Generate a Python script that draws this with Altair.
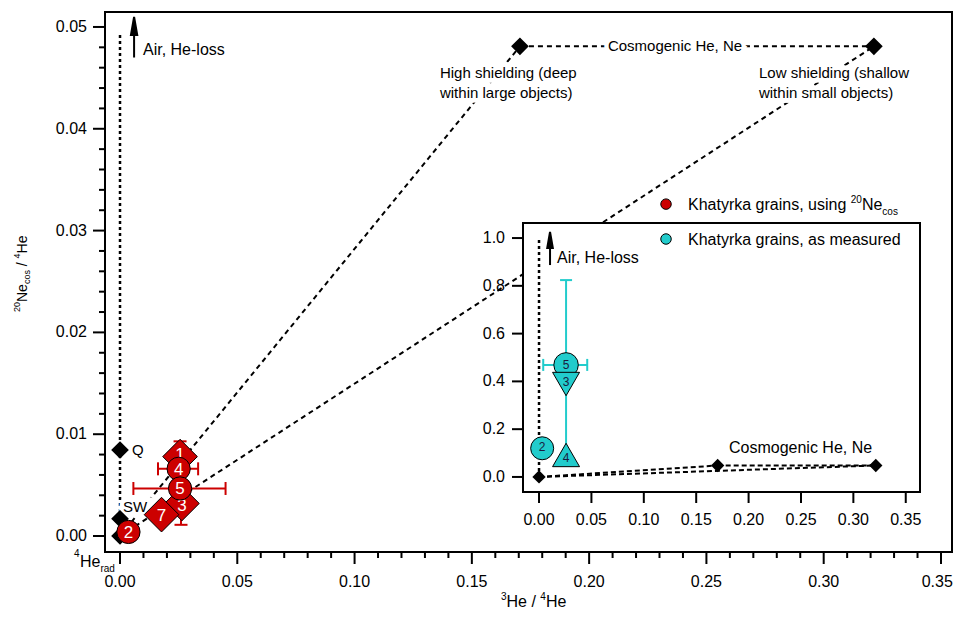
import altair as alt
import pandas as pd

FONT = "Liberation Sans"
RED = "#CC0000"
CYAN = "#22CCCC"
W, H = 847, 540

# ---------------- main panel ----------------
x_ticks = [0.00, 0.05, 0.10, 0.15, 0.20, 0.25, 0.30, 0.35]
x_tick_labels = ["0.00", "0.05", "0.10", "0.15", "0.20", "0.25", "0.30", "0.35"]
x_label_pos = [0.00, 0.05, 0.10, 0.15, 0.20, 0.25, 0.30, 0.3484]
y_ticks = [0.00, 0.01, 0.02, 0.03, 0.04, 0.05]
y_tick_labels = ["0.00", "0.01", "0.02", "0.03", "0.04", "0.05"]
x_minor = [0.01, 0.02, 0.03, 0.04, 0.06, 0.07, 0.08, 0.09, 0.11, 0.12, 0.13, 0.14,
           0.16, 0.17, 0.18, 0.19, 0.21, 0.22, 0.23, 0.24, 0.26, 0.27, 0.28, 0.29,
           0.31, 0.32, 0.33, 0.34]
y_minor = [0.002, 0.004, 0.006, 0.008, 0.012, 0.014, 0.016, 0.018, 0.022, 0.024,
           0.026, 0.028, 0.032, 0.034, 0.036, 0.038, 0.042, 0.044, 0.046, 0.048]

ref_name = ["4He_rad", "SW", "Q", "high", "low"]
ref_x = [0.0, 0.0, 0.0, 0.1705, 0.3214]
ref_y = [0.0, 0.0017, 0.00845, 0.0481, 0.0481]

mix_x0 = [0.0, 0.0, 0.1705]
mix_y0 = [0.0, 0.0, 0.0481]
mix_x1 = [0.1705, 0.3214, 0.3214]
mix_y1 = [0.0481, 0.0481, 0.0481]

air_x = [0.0]
air_y0 = [0.0]
air_y1 = [0.0495]
arrow_x = [0.006]
arrow_y0 = [0.0470]
arrow_head_y = [0.0501]

note_text = ["Air, He-loss", "Cosmogenic He, Ne", "High shielding (deep",
             "within large objects)", "Low shielding (shallow",
             "within small objects)", "SW", "Q"]
note_x = [0.0098, 0.2080, 0.1364, 0.1364, 0.2724, 0.2724, 0.0013, 0.0051]
note_y = [0.0477, 0.0481, 0.0455, 0.0435, 0.0455, 0.0435, 0.00285, 0.00845]
note_size = [16, 15, 15, 15, 15, 15, 15, 15]

grain_id = ["1", "3", "7", "4", "5", "2"]
grain_x = [0.0256, 0.0264, 0.0177, 0.0250, 0.0256, 0.0036]
grain_y = [0.0078, 0.0032, 0.0021, 0.0066, 0.00467, 0.0004]
grain_label_y = [0.0081, 0.0030, 0.0021, 0.0066, 0.00467, 0.0004]
grain_shape = ["diamond", "diamond", "diamond", "circle", "circle", "circle"]

err_x0 = [0.0256, 0.0260, 0.0162, 0.0057]
err_x1 = [0.0256, 0.0260, 0.0333, 0.0450]
err_y0 = [0.0065, 0.0011, 0.0066, 0.00467]
err_y1 = [0.0093, 0.0053, 0.0066, 0.00467]

# ---------------- inset ----------------
in_x_ticks = [0.00, 0.05, 0.10, 0.15, 0.20, 0.25, 0.30, 0.35]
in_x_tick_labels = ["0.00", "0.05", "0.10", "0.15", "0.20", "0.25", "0.30", "0.35"]
in_y_ticks = [0.0, 0.2, 0.4, 0.6, 0.8, 1.0]
in_y_tick_labels = ["0.0", "0.2", "0.4", "0.6", "0.8", "1.0"]
in_x_domain = [-0.0153, 0.3636]
in_y_domain = [-0.063, 1.063]

in_ref_x = [0.0, 0.1705, 0.3214]
in_ref_y = [0.0, 0.048, 0.048]
in_mix_x0 = [0.0, 0.0, 0.1705]
in_mix_y0 = [0.0, 0.0, 0.048]
in_mix_x1 = [0.1705, 0.3214, 0.3214]
in_mix_y1 = [0.048, 0.048, 0.048]
in_air_x = [0.0]
in_air_y0 = [0.0]
in_air_y1 = [1.0]
in_arrow_x = [0.0105]
in_arrow_y0 = [0.887]
in_arrow_head_y = [0.992]
in_note_text = ["Air, He-loss", "Cosmogenic He, Ne"]
in_note_x = [0.0172, 0.1813]
in_note_y = [0.916, 0.121]

meas_id = ["3", "4", "2", "5"]
meas_x = [0.0258, 0.0258, 0.0030, 0.0258]
meas_y = [0.389, 0.092, 0.120, 0.469]
meas_label_y = [0.397, 0.079, 0.125, 0.469]
meas_shape = ["triangle-down", "triangle-up", "circle", "circle"]
meas_size = [730, 730, 530, 600]

meas_err_x0 = [0.0258, 0.004]
meas_err_x1 = [0.0258, 0.046]
meas_err_y0 = [0.092, 0.469]
meas_err_y1 = [0.824, 0.469]

leg_x = [0.1212, 0.1212]
leg_y = [1.142, 0.996]
leg_color = [RED, CYAN]
leg_text_x = [0.1422, 0.1422]
leg_text_y = [1.117, 0.971]

# ---------------- helpers ----------------
ARIAL = {" ": 278, "/": 278, ",": 278, "(": 333, ")": 333, "-": 333, ".": 278,
         "A": 667, "C": 722, "H": 722, "K": 667, "L": 556, "N": 722, "Q": 778,
         "S": 667, "W": 944, "a": 556, "b": 556, "c": 500, "d": 556, "e": 556,
         "g": 556, "h": 556, "i": 222, "k": 500, "l": 222, "m": 833, "n": 556,
         "o": 556, "p": 556, "r": 333, "s": 500, "t": 278, "u": 556, "w": 722,
         "y": 500}


def tw(s, fs):
    return sum(ARIAL.get(c, 556) for c in s) / 1000.0 * fs


xs_m = alt.Scale(domain=[-0.0064, 0.3547], nice=False, zero=False)
ys_m = alt.Scale(domain=[-0.00157, 0.05147], nice=False, zero=False)
xs_i = alt.Scale(domain=in_x_domain, range=[418, 815], nice=False, zero=False)
ys_i = alt.Scale(domain=in_y_domain, range=[480, 211], nice=False, zero=False)


def MX(f):
    return alt.X(f, type="quantitative", scale=xs_m, axis=None)


def MY(f):
    return alt.Y(f, type="quantitative", scale=ys_m, axis=None)


def IX(f):
    return alt.X(f, type="quantitative", scale=xs_i, axis=None)


def IY(f):
    return alt.Y(f, type="quantitative", scale=ys_i, axis=None)


def pieces(df, xe, ye, parts, base, small, angle=0, color="black"):
    out = []
    off = 0.0
    for txt, kind in parts:
        fs = base if kind == "n" else small
        dy = 0 if kind == "n" else (-0.45 * base if kind == "sup" else 0.28 * base)
        lead = len(txt) - len(txt.lstrip(" "))
        core = txt.strip(" ")
        trail = len(txt) - len(txt.rstrip(" "))
        off += tw(" " * lead, fs)
        out.append(alt.Chart(df).mark_text(
            text=core, dx=off, dy=dy, angle=angle, align="left",
            baseline="alphabetic", fontSize=fs, font=FONT, color=color
        ).encode(x=xe, y=ye))
        off += tw(core, fs) + tw(" " * trail, fs)
    return out


def x_axis(ticks, labels, lpos, xf, y0, tick_len, lab_y):
    df = pd.DataFrame({"v": ticks})
    ldf = pd.DataFrame({"v": lpos, "t": labels})
    r = alt.Chart(df).mark_rule(color="black", strokeWidth=2).encode(
        x=xf("v"), y=alt.value(y0), y2=alt.value(y0 + tick_len))
    t = alt.Chart(ldf).mark_text(font=FONT, fontSize=16, color="black", baseline="middle",
                                 align="center").encode(x=xf("v"), y=alt.value(lab_y), text="t:N")
    return [r, t]


def y_axis(ticks, labels, yf, x0, tick_len, lab_x):
    df = pd.DataFrame({"v": ticks, "t": labels})
    r = alt.Chart(df).mark_rule(color="black", strokeWidth=2).encode(
        y=yf("v"), x=alt.value(x0), x2=alt.value(x0 - tick_len))
    t = alt.Chart(df).mark_text(font=FONT, fontSize=16, color="black", baseline="middle",
                                align="right").encode(y=yf("v"), x=alt.value(lab_x), text="t:N")
    return [r, t]


# ---------------- main layers ----------------
mix_df = pd.DataFrame({"x0": mix_x0, "y0": mix_y0, "x1": mix_x1, "y1": mix_y1})
m_mix = alt.Chart(mix_df).mark_rule(color="black", strokeWidth=2, strokeDash=[5, 4]).encode(
    x=MX("x0"), y=MY("y0"), x2="x1", y2="y1")

air_df = pd.DataFrame({"x": air_x, "y0": air_y0, "y1": air_y1})
m_air = alt.Chart(air_df).mark_rule(color="black", strokeWidth=2.5, strokeDash=[3, 3]).encode(
    x=MX("x"), y=MY("y0"), y2="y1")

arr_df = pd.DataFrame({"x": arrow_x, "y0": arrow_y0, "yh": arrow_head_y})
m_arr = alt.Chart(arr_df).mark_rule(color="black", strokeWidth=2).encode(
    x=MX("x"), y=MY("y0"), y2="yh")
m_head = alt.Chart(arr_df).mark_point(shape="M0,-1L-0.35,1L0.35,1Z", size=324, filled=True,
                                      fill="black", stroke="black", opacity=1).encode(
    x=MX("x"), y=MY("yh"))

xm_df = pd.DataFrame({"v": x_minor})
m_xminor = alt.Chart(xm_df).mark_rule(color="black", strokeWidth=2).encode(
    x=MX("v"), y=alt.value(H), y2=alt.value(H + 6))
ym_df = pd.DataFrame({"v": y_minor})
m_yminor = alt.Chart(ym_df).mark_rule(color="black", strokeWidth=2).encode(
    y=MY("v"), x=alt.value(0), x2=alt.value(-6))

m_xaxis = x_axis(x_ticks, x_tick_labels, x_label_pos, MX, H, 12, H + 30)
m_yaxis = y_axis(y_ticks, y_tick_labels, MY, 0, 12, -18)

note_df = pd.DataFrame({"t": note_text, "x": note_x, "y": note_y, "fs": note_size})
m_halo = alt.Chart(note_df).mark_text(align="left", baseline="middle", font=FONT,
                                      color="white", stroke="white", strokeWidth=9).encode(
    x=MX("x"), y=MY("y"), text="t:N", size=alt.Size("fs:Q", scale=None, legend=None))
m_note = alt.Chart(note_df).mark_text(align="left", baseline="middle", font=FONT,
                                      color="black").encode(
    x=MX("x"), y=MY("y"), text="t:N", size=alt.Size("fs:Q", scale=None, legend=None))

origin_df = pd.DataFrame({"x": [ref_x[0]], "y": [ref_y[0]]})
herad = [
    alt.Chart(origin_df).mark_text(text="4", dx=-46, dy=21, align="left", baseline="alphabetic",
                                   fontSize=10, font=FONT, color="black").encode(x=MX("x"), y=MY("y")),
    alt.Chart(origin_df).mark_text(text="He", dx=-40, dy=31, align="left", baseline="alphabetic",
                                   fontSize=16, font=FONT, color="black").encode(x=MX("x"), y=MY("y")),
    alt.Chart(origin_df).mark_text(text="rad", dx=-40 + tw("He", 16), dy=36, align="left",
                                   baseline="alphabetic", fontSize=10, font=FONT,
                                   color="black").encode(x=MX("x"), y=MY("y")),
]

ref_df = pd.DataFrame({"name": ref_name, "x": ref_x, "y": ref_y})
m_ref = alt.Chart(ref_df).mark_point(shape="diamond", size=220, filled=True, fill="black",
                                     stroke="black", opacity=1).encode(x=MX("x"), y=MY("y"))

err_df = pd.DataFrame({"x0": err_x0, "x1": err_x1, "y0": err_y0, "y1": err_y1})
m_err = alt.Chart(err_df).mark_rule(color=RED, strokeWidth=2).encode(
    x=MX("x0"), x2="x1", y=MY("y0"), y2="y1")
capv = pd.DataFrame({"x": [err_x0[0], err_x0[0], err_x0[1], err_x0[1]],
                     "y": [err_y0[0], err_y1[0], err_y0[1], err_y1[1]]})
caph = pd.DataFrame({"x": [err_x0[2], err_x1[2], err_x0[3], err_x1[3]],
                     "y": [err_y0[2], err_y1[2], err_y0[3], err_y1[3]]})
m_capv = alt.Chart(capv).mark_tick(orient="horizontal", color=RED, size=13, thickness=2,
                                   opacity=1).encode(x=MX("x"), y=MY("y"))
m_caph = alt.Chart(caph).mark_tick(orient="vertical", color=RED, size=13, thickness=2,
                                   opacity=1).encode(x=MX("x"), y=MY("y"))

g_df = pd.DataFrame({"id": grain_id, "x": grain_x, "y": grain_y, "ly": grain_label_y,
                     "shape": grain_shape})
gd = g_df[g_df["shape"] == "diamond"]
gc = g_df[g_df["shape"] == "circle"]
m_gd = alt.Chart(gd).mark_point(shape="diamond", size=1200, filled=True, fill=RED,
                                stroke="black", strokeWidth=1, opacity=1).encode(x=MX("x"), y=MY("y"))
m_gdl = alt.Chart(gd).mark_text(font=FONT, fontSize=17, color="white", baseline="middle",
                                dy=1).encode(x=MX("x"), y=MY("ly"), text="id:N")
m_gc = alt.Chart(gc).mark_point(shape="circle", size=540, filled=True, fill=RED,
                                stroke="black", strokeWidth=1, opacity=1).encode(x=MX("x"), y=MY("y"))
m_gcl = alt.Chart(gc).mark_text(font=FONT, fontSize=17, color="white", baseline="middle",
                                dy=1).encode(x=MX("x"), y=MY("ly"), text="id:N")

one = pd.DataFrame({"a": [0]})
xtitle = pieces(one, alt.value(396), alt.value(595),
                [("3", "sup"), ("He", "n"), (" / ", "n"), ("4", "sup"), ("He", "n")], 16, 10)
ytitle = pieces(one, alt.value(-78.5), alt.value(300),
                [("20", "sup"), ("Ne", "n"), ("cos", "sub"), (" / ", "n"), ("4", "sup"), ("He", "n")],
                14, 9, angle=270)

main = alt.layer(m_mix, m_air, m_arr, m_head, m_xminor, m_yminor, *m_xaxis, *m_yaxis,
                 m_halo, m_note, *herad, m_ref, m_err, m_capv, m_caph,
                 m_gd, m_gdl, m_gc, m_gcl, *xtitle, *ytitle)

# ---------------- inset layers ----------------
frame_df = pd.DataFrame({"x0": [in_x_domain[0]], "x1": [in_x_domain[1]],
                         "y0": [in_y_domain[0]], "y1": [in_y_domain[1]]})
i_frame = alt.Chart(frame_df).mark_rect(fill="white", stroke="black", strokeWidth=2).encode(
    x=IX("x0"), x2="x1", y=IY("y0"), y2="y1")

i_xaxis = x_axis(in_x_ticks, in_x_tick_labels, in_x_ticks, IX, 480, 11, 508)
i_yaxis = y_axis(in_y_ticks, in_y_tick_labels, IY, 418, 11, 400)

imix_df = pd.DataFrame({"x0": in_mix_x0, "y0": in_mix_y0, "x1": in_mix_x1, "y1": in_mix_y1})
i_mix = alt.Chart(imix_df).mark_rule(color="black", strokeWidth=2, strokeDash=[5, 3]).encode(
    x=IX("x0"), y=IY("y0"), x2="x1", y2="y1")
iair_df = pd.DataFrame({"x": in_air_x, "y0": in_air_y0, "y1": in_air_y1})
i_air = alt.Chart(iair_df).mark_rule(color="black", strokeWidth=2.5, strokeDash=[3, 3]).encode(
    x=IX("x"), y=IY("y0"), y2="y1")
iarr_df = pd.DataFrame({"x": in_arrow_x, "y0": in_arrow_y0, "yh": in_arrow_head_y})
i_arr = alt.Chart(iarr_df).mark_rule(color="black", strokeWidth=2).encode(
    x=IX("x"), y=IY("y0"), y2="yh")
i_head = alt.Chart(iarr_df).mark_point(shape="M0,-1L-0.35,1L0.35,1Z", size=256, filled=True,
                                       fill="black", stroke="black", opacity=1).encode(
    x=IX("x"), y=IY("yh"))
iref_df = pd.DataFrame({"x": in_ref_x, "y": in_ref_y})
i_ref = alt.Chart(iref_df).mark_point(shape="diamond", size=110, filled=True, fill="black",
                                      stroke="black", opacity=1).encode(x=IX("x"), y=IY("y"))
inote_df = pd.DataFrame({"t": in_note_text, "x": in_note_x, "y": in_note_y})
i_note = alt.Chart(inote_df).mark_text(align="left", baseline="middle", font=FONT, fontSize=16,
                                       color="black").encode(x=IX("x"), y=IY("y"), text="t:N")

ierr_df = pd.DataFrame({"x0": meas_err_x0, "x1": meas_err_x1, "y0": meas_err_y0,
                        "y1": meas_err_y1})
i_err = alt.Chart(ierr_df).mark_rule(color=CYAN, strokeWidth=2).encode(
    x=IX("x0"), x2="x1", y=IY("y0"), y2="y1")
icapv = pd.DataFrame({"x": [meas_err_x0[0]], "y": [meas_err_y1[0]]})
icaph = pd.DataFrame({"x": [meas_err_x0[1], meas_err_x1[1]], "y": [meas_err_y0[1], meas_err_y0[1]]})
i_capv = alt.Chart(icapv).mark_tick(orient="horizontal", color=CYAN, size=12, thickness=2,
                                    opacity=1).encode(x=IX("x"), y=IY("y"))
i_caph = alt.Chart(icaph).mark_tick(orient="vertical", color=CYAN, size=12, thickness=2,
                                    opacity=1).encode(x=IX("x"), y=IY("y"))

meas_df = pd.DataFrame({"id": meas_id, "x": meas_x, "y": meas_y, "ly": meas_label_y,
                        "shape": meas_shape, "sz": meas_size})
i_pts = alt.Chart(meas_df).mark_point(filled=True, fill=CYAN, stroke="black", strokeWidth=1,
                                      opacity=1).encode(
    x=IX("x"), y=IY("y"),
    shape=alt.Shape("shape:N", scale=None, legend=None),
    size=alt.Size("sz:Q", scale=None, legend=None),
    order=alt.Order("sz:Q"))
i_lab = alt.Chart(meas_df).mark_text(font=FONT, fontSize=12, color="#1a1a40",
                                     baseline="middle").encode(x=IX("x"), y=IY("ly"), text="id:N")

leg_df = pd.DataFrame({"x": leg_x, "y": leg_y, "c": leg_color})
i_leg = alt.Chart(leg_df).mark_point(shape="circle", size=110, filled=True, stroke="black",
                                     strokeWidth=1, opacity=1).encode(
    x=IX("x"), y=IY("y"), fill=alt.Fill("c:N", scale=None, legend=None))
leg1_df = pd.DataFrame({"x": [leg_text_x[0]], "y": [leg_text_y[0]]})
leg2_df = pd.DataFrame({"x": [leg_text_x[1]], "y": [leg_text_y[1]]})
leg1 = pieces(leg1_df, IX("x"), IY("y"),
              [("Khatyrka grains, using ", "n"), ("20", "sup"), ("Ne", "n"), ("cos", "sub")],
              16, 10)
leg2 = pieces(leg2_df, IX("x"), IY("y"), [("Khatyrka grains, as measured", "n")], 16, 10)

inset = alt.layer(i_frame, *i_xaxis, *i_yaxis, i_mix, i_air, i_arr, i_head, i_ref, i_note,
                  i_err, i_capv, i_caph, i_pts, i_lab, i_leg, *leg1, *leg2)

chart = alt.layer(main, inset).resolve_scale(x="independent", y="independent").properties(
    width=W, height=H,
    padding={"left": 97, "top": 4, "right": 1, "bottom": 59},
    autosize=alt.AutoSizeParams(type="none"),
).configure(font=FONT).configure_view(stroke="black", strokeWidth=2)

chart.save("out.html", embed_options={"renderer": "svg", "actions": False})
